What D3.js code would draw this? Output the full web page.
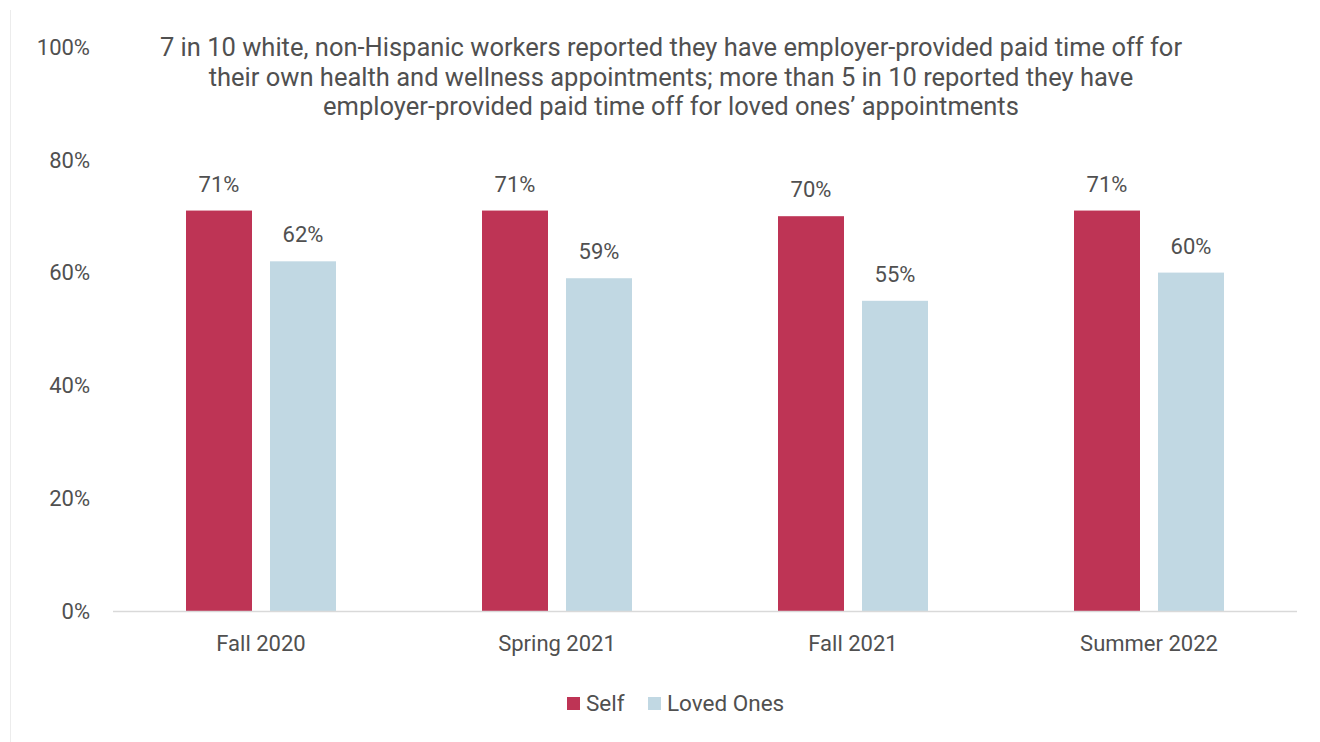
<!DOCTYPE html>
<html>
<head>
<meta charset="utf-8">
<script src="https://cdn.jsdelivr.net/npm/d3@7"></script>
<style>
  html, body { margin: 0; padding: 0; background: #fff; }
  svg text { font-family: Roboto, "DejaVu Sans", sans-serif; fill: #505050; }
</style>
</head>
<body>
<svg id="chart" width="1320" height="742"></svg>
<script>
// Survey waves and the share of workers reporting employer-provided paid time off
const categories = ["Fall 2020", "Spring 2021", "Fall 2021", "Summer 2022"];
const seriesNames = ["Self", "Loved Ones"];
const selfValues = [71, 71, 70, 71];
const lovedOnesValues = [62, 59, 55, 60];
const yTicks = [0, 20, 40, 60, 80, 100];
const titleLines = [
  "7 in 10 white, non-Hispanic workers reported they have employer-provided paid time off for",
  "their own health and wellness appointments; more than 5 in 10 reported they have",
  "employer-provided paid time off for loved ones\u2019 appointments"
];
const colors = ["#BE3455", "#C1D8E3"];

const svg = d3.select("#chart");

// Thin frame line on the left edge
svg.append("line")
  .attr("x1", 10.5).attr("x2", 10.5)
  .attr("y1", 10).attr("y2", 742)
  .attr("stroke", "#ececec").attr("stroke-width", 1);

const margin = { left: 113, right: 1297, top: 47, bottom: 611 };

const x0 = d3.scaleBand()
  .domain(categories)
  .range([margin.left, margin.right])
  .paddingInner(0).paddingOuter(0);

const x1 = d3.scaleBand()
  .domain(seriesNames)
  .range([x0.bandwidth() / 2 - 75, x0.bandwidth() / 2 + 75])
  .paddingInner(0.2143);

const y = d3.scaleLinear()
  .domain([0, 100])
  .range([margin.bottom, margin.top]);

// Y axis labels (no line, no gridlines)
svg.append("g")
  .selectAll("text")
  .data(yTicks)
  .join("text")
  .attr("x", 90)
  .attr("y", d => y(d))
  .attr("dy", "0.35em")
  .attr("text-anchor", "end")
  .attr("font-size", 22)
  .text(d => d + "%");

// Grouped bars
const rows = categories.map((c, i) => ({
  category: c,
  values: [
    { series: seriesNames[0], value: selfValues[i], color: colors[0] },
    { series: seriesNames[1], value: lovedOnesValues[i], color: colors[1] }
  ]
}));

const groups = svg.append("g")
  .selectAll("g")
  .data(rows)
  .join("g")
  .attr("transform", d => `translate(${x0(d.category)},0)`);

groups.selectAll("rect")
  .data(d => d.values)
  .join("rect")
  .attr("x", d => x1(d.series))
  .attr("width", x1.bandwidth())
  .attr("y", d => y(d.value))
  .attr("height", d => y(0) - y(d.value))
  .attr("fill", d => d.color);

groups.selectAll("text.value")
  .data(d => d.values)
  .join("text")
  .attr("class", "value")
  .attr("x", d => x1(d.series) + x1.bandwidth() / 2)
  .attr("y", d => y(d.value) - 19)
  .attr("text-anchor", "middle")
  .attr("font-size", 22)
  .text(d => d.value + "%");

// X axis baseline and category labels
svg.append("line")
  .attr("x1", margin.left).attr("x2", margin.right)
  .attr("y1", y(0) + 0.5).attr("y2", y(0) + 0.5)
  .attr("stroke", "#d9d9d9").attr("stroke-width", 1.5);

svg.append("g")
  .selectAll("text")
  .data(categories)
  .join("text")
  .attr("x", d => x0(d) + x0.bandwidth() / 2)
  .attr("y", 651)
  .attr("text-anchor", "middle")
  .attr("font-size", 22)
  .text(d => d);

// Title
svg.append("g")
  .selectAll("text")
  .data(titleLines)
  .join("text")
  .attr("x", 671)
  .attr("y", (d, i) => 56 + i * 29.5)
  .attr("text-anchor", "middle")
  .attr("font-size", 25.5)
  .text(d => d);

// Legend
const legend = svg.append("g");
const legendItems = [
  { name: seriesNames[0], color: colors[0], x: 567 },
  { name: seriesNames[1], color: colors[1], x: 648 }
];
legendItems.forEach(item => {
  legend.append("rect")
    .attr("x", item.x).attr("y", 697)
    .attr("width", 13).attr("height", 13)
    .attr("fill", item.color);
  legend.append("text")
    .attr("x", item.x + 19).attr("y", 703.5)
    .attr("dy", "0.35em")
    .attr("font-size", 22.5)
    .text(item.name);
});
</script>
</body>
</html>
